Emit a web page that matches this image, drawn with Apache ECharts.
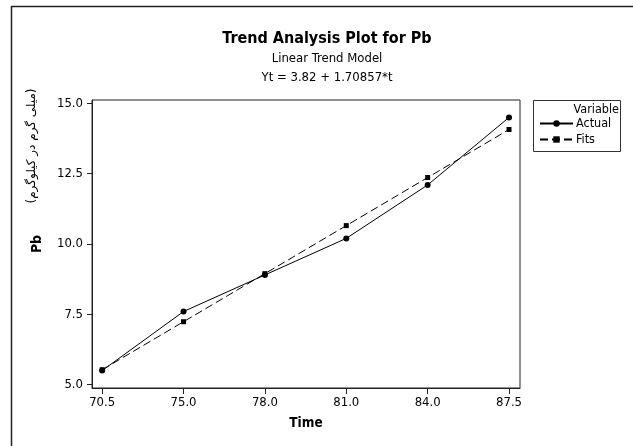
<!DOCTYPE html>
<html>
<head>
<meta charset="utf-8">
<script src="https://cdn.jsdelivr.net/npm/echarts@6/dist/echarts.min.js"></script>
<style>
html,body{margin:0;padding:0;background:#fff;}
#c{width:633px;height:446px;}
</style>
</head>
<body>
<div id="c"></div>
<script>
const categories = ['70.5', '75.0', '78.0', '81.0', '84.0', '87.5'];
const actual = [5.5, 7.6, 8.9, 10.2, 12.1, 14.5];
const fits = [5.529, 7.237, 8.946, 10.654, 12.363, 14.071];
const yTicks = [5, 7.5, 10, 12.5, 15];
const intercept = '3.82';
const slope = '1.70857';

const FONT = "'DejaVu Sans Condensed', 'DejaVu Sans', sans-serif";
const chart = echarts.init(document.getElementById('c'), null, {renderer: 'canvas'});
const xIdx = categories.map((_, i) => i);

chart.setOption({
  backgroundColor: '#fff',
  animation: false,
  textStyle: {fontFamily: FONT, color: '#000'},
  title: [
    {text: 'Trend Analysis Plot for Pb', left: 327, top: 29, textAlign: 'center', padding: 0,
     textStyle: {fontFamily: FONT, fontWeight: 'bold', fontSize: 16, lineHeight: 20, color: '#000'}},
    {text: 'Linear Trend Model', left: 327, top: 51, textAlign: 'center', padding: 0,
     textStyle: {fontFamily: FONT, fontWeight: 'normal', fontSize: 13, lineHeight: 16, color: '#000'}},
    {text: 'Yt = ' + intercept + ' + ' + slope + '*t', left: 327, top: 70, textAlign: 'center', padding: 0,
     textStyle: {fontFamily: FONT, fontWeight: 'normal', fontSize: 13, lineHeight: 16, color: '#000'}}
  ],
  grid: {left: 92, right: 113, top: 100, bottom: 58, show: true, borderColor: '#222', borderWidth: 1, backgroundColor: '#fff'},
  legend: {
    data: ['Actual', 'Fits'],
    orient: 'vertical', left: 539, top: 117, itemWidth: 33, itemHeight: 8, itemGap: 3, padding: 0,
    textStyle: {fontFamily: FONT, fontSize: 12.5, color: '#000', padding: [0, 0, 0, -2]},
    selectedMode: false
  },
  xAxis: {
    type: 'value', min: -0.125, max: 5.135,
    name: 'Time', nameLocation: 'middle', nameGap: 28,
    nameTextStyle: {fontFamily: FONT, fontWeight: 'bold', fontSize: 13.5, color: '#000'},
    axisLine: {show: true, onZero: false, lineStyle: {color: '#222', width: 1}},
    axisTick: {show: true, length: 6, customValues: xIdx, lineStyle: {color: '#222'}},
    axisLabel: {customValues: xIdx, formatter: v => categories[Math.round(v)], fontFamily: FONT, fontSize: 13, color: '#000', margin: 8},
    splitLine: {show: false}
  },
  yAxis: {
    type: 'value', min: 4.88, max: 15.12,
    name: 'Pb', nameLocation: 'middle', nameGap: 48, nameRotate: 90,
    nameTextStyle: {fontFamily: FONT, fontWeight: 'bold', fontSize: 14, color: '#000'},
    axisLine: {show: true, onZero: false, lineStyle: {color: '#222', width: 1}},
    axisTick: {show: true, length: 5, customValues: yTicks, lineStyle: {color: '#222'}},
    axisLabel: {customValues: yTicks, formatter: v => v.toFixed(1), fontFamily: FONT, fontSize: 13, color: '#000', margin: 9},
    splitLine: {show: false}
  },
  series: [
    {name: 'Actual', type: 'line', data: actual.map((v, i) => [i, v]),
     symbol: 'circle', symbolSize: 6, showAllSymbol: true,
     lineStyle: {color: '#000', width: 1, type: 'solid'}, itemStyle: {color: '#000'}},
    {name: 'Fits', type: 'line', data: fits.map((v, i) => [i, v]),
     symbol: 'rect', symbolSize: 5, showAllSymbol: true,
     lineStyle: {color: '#000', width: 1, type: [8, 4]}, itemStyle: {color: '#000'}}
  ],
  graphic: [
    {type: 'line', shape: {x1: 11.5, y1: 6, x2: 11.5, y2: 446}, style: {stroke: '#222', lineWidth: 1.5}, silent: true},
    {type: 'line', shape: {x1: 11, y1: 6.5, x2: 633, y2: 6.5}, style: {stroke: '#222', lineWidth: 1.5}, silent: true},
    {type: 'rect', shape: {x: 533.5, y: 100.5, width: 87, height: 51}, style: {fill: null, stroke: '#333', lineWidth: 1}, silent: true, z: -1},
    {type: 'text', x: 619, y: 110, style: {text: 'Variable', fontFamily: FONT, fontSize: 12.5, fill: '#000', align: 'right', verticalAlign: 'middle'}, silent: true},
    {type: 'text', x: 32, y: 146, rotation: Math.PI / 2,
     style: {text: '(میلی گرم در کیلوگرم)', fontFamily: "'DejaVu Sans', 'Noto Sans', sans-serif", fontSize: 12, fill: '#000', align: 'center', verticalAlign: 'middle'}, silent: true}
  ]
});
</script>
</body>
</html>
